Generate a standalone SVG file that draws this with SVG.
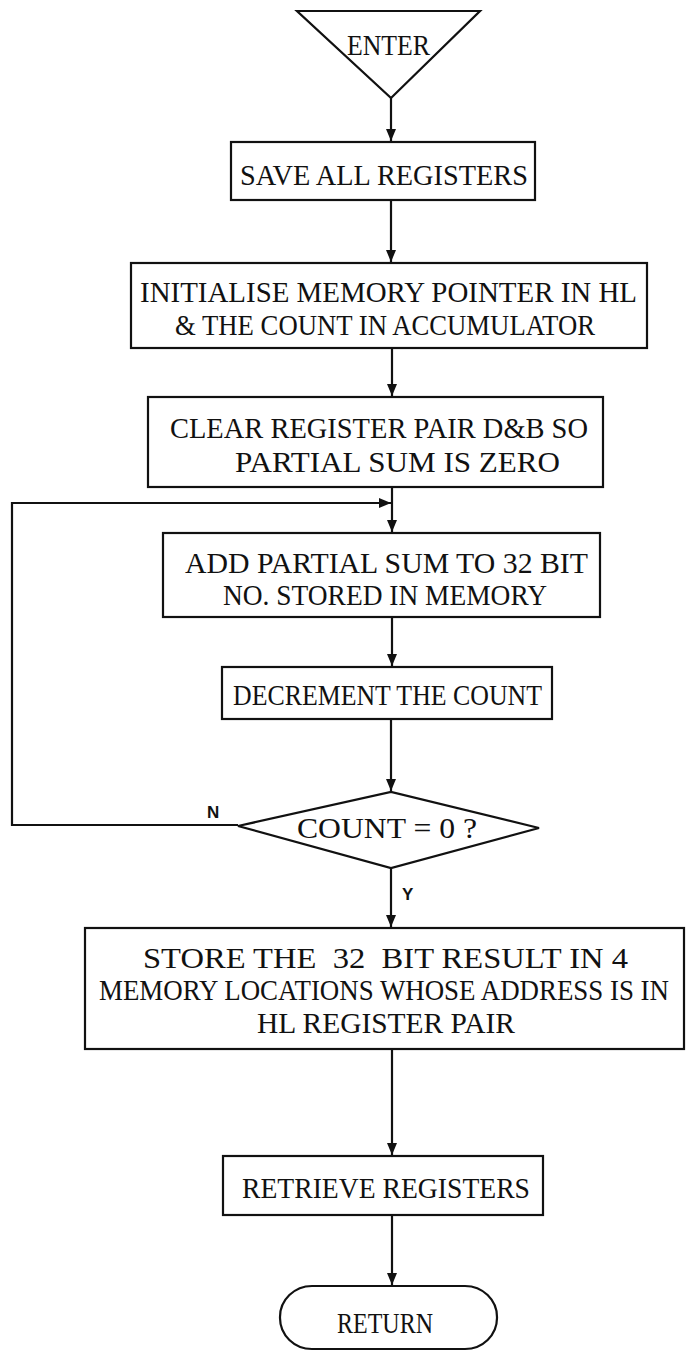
<svg xmlns="http://www.w3.org/2000/svg" width="686" height="1352" viewBox="0 0 686 1352">
<style>
.shape{fill:#fff;stroke:#111;stroke-width:2.2}
.conn{fill:none;stroke:#111;stroke-width:2.2}
.t{font-family:"Liberation Serif","Times New Roman",serif;font-size:29px;fill:#111;white-space:pre}
.lbl{font-family:"Liberation Sans",Arial,sans-serif;font-size:17px;font-weight:bold;fill:#111}
</style>
<defs>
<marker id="ah" markerUnits="userSpaceOnUse" viewBox="0 0 12 10" markerWidth="12" markerHeight="10" refX="12" refY="5" orient="auto">
<path d="M0,0 L12,5 L0,10 z" fill="#111"/>
</marker>
</defs>
<g id="connectors">
<path class="conn" d="M391,98 V141" marker-end="url(#ah)"/>
<path class="conn" d="M391,200 V262" marker-end="url(#ah)"/>
<path class="conn" d="M392,348 V396" marker-end="url(#ah)"/>
<path class="conn" d="M392,487 V532" marker-end="url(#ah)"/>
<path class="conn" d="M238,825 H12 V503 H391" marker-end="url(#ah)"/>
<path class="conn" d="M392,617 V666" marker-end="url(#ah)"/>
<path class="conn" d="M391,719 V791" marker-end="url(#ah)"/>
<path class="conn" d="M391,868 V927" marker-end="url(#ah)"/>
<path class="conn" d="M392,1049 V1155" marker-end="url(#ah)"/>
<path class="conn" d="M392,1215 V1285" marker-end="url(#ah)"/>
<text class="lbl" x="207" y="818">N</text>
<text class="lbl" x="402" y="900">Y</text>
</g>
<g id="enter">
<polygon class="shape" points="297,11 480,11 391,98" stroke-width="3"/>
<text class="t" x="347" y="55" textLength="83" lengthAdjust="spacingAndGlyphs">ENTER</text>
</g>
<g id="save">
<rect class="shape" x="231" y="142" width="304" height="58"/>
<text class="t" x="240" y="185" textLength="288" lengthAdjust="spacingAndGlyphs">SAVE ALL REGISTERS</text>
</g>
<g id="init">
<rect class="shape" x="131" y="263" width="516" height="85"/>
<text class="t" x="140" y="302" textLength="497" lengthAdjust="spacingAndGlyphs">INITIALISE MEMORY POINTER IN HL</text>
<text class="t" x="175" y="335" textLength="420" lengthAdjust="spacingAndGlyphs">&amp; THE COUNT IN ACCUMULATOR</text>
</g>
<g id="clear">
<rect class="shape" x="148" y="397" width="455" height="90"/>
<text class="t" x="170" y="438" textLength="418" lengthAdjust="spacingAndGlyphs">CLEAR REGISTER PAIR D&amp;B SO</text>
<text class="t" x="235" y="472" textLength="325" lengthAdjust="spacingAndGlyphs">PARTIAL SUM IS ZERO</text>
</g>
<g id="add">
<rect class="shape" x="163" y="533" width="437" height="84"/>
<text class="t" x="185" y="573" textLength="403" lengthAdjust="spacingAndGlyphs">ADD PARTIAL SUM TO 32 BIT</text>
<text class="t" x="223" y="605" textLength="324" lengthAdjust="spacingAndGlyphs">NO. STORED IN MEMORY</text>
</g>
<g id="decrement">
<rect class="shape" x="222" y="667" width="330" height="52"/>
<text class="t" x="233" y="705" textLength="309" lengthAdjust="spacingAndGlyphs">DECREMENT THE COUNT</text>
</g>
<g id="decision">
<polygon class="shape" points="238,826 391,792 539,828 391,868"/>
<text class="t" x="297" y="838" textLength="180" lengthAdjust="spacingAndGlyphs">COUNT = 0 ?</text>
</g>
<g id="store">
<rect class="shape" x="85" y="928" width="599" height="121"/>
<text class="t" x="143" y="968" textLength="485" lengthAdjust="spacingAndGlyphs">STORE THE  32  BIT RESULT IN 4</text>
<text class="t" x="99" y="1000" textLength="570" lengthAdjust="spacingAndGlyphs">MEMORY LOCATIONS WHOSE ADDRESS IS IN</text>
<text class="t" x="257" y="1033" textLength="258" lengthAdjust="spacingAndGlyphs">HL REGISTER PAIR</text>
</g>
<g id="retrieve">
<rect class="shape" x="223" y="1156" width="320" height="59"/>
<text class="t" x="242" y="1198" textLength="288" lengthAdjust="spacingAndGlyphs">RETRIEVE REGISTERS</text>
</g>
<g id="return">
<rect class="shape" x="280" y="1286" width="217" height="63" rx="32" ry="31"/>
<text class="t" x="337" y="1333" textLength="96" lengthAdjust="spacingAndGlyphs">RETURN</text>
</g>
</svg>
